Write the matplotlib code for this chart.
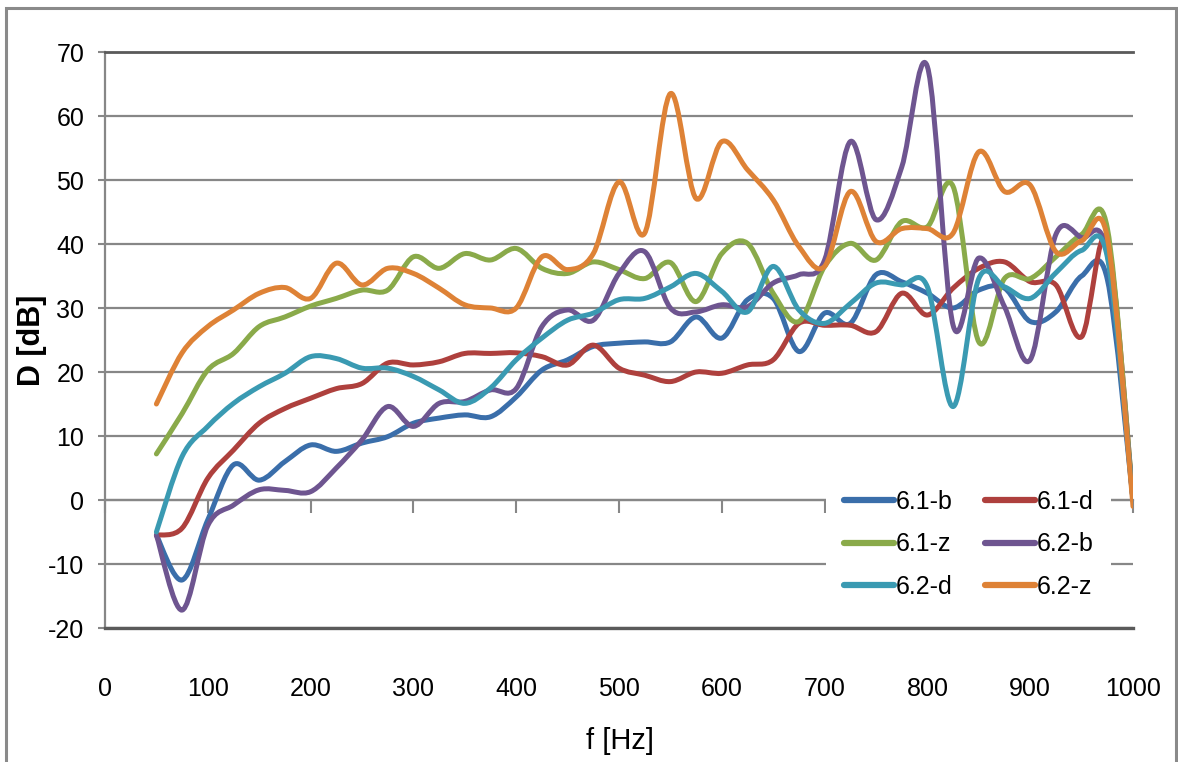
import matplotlib
matplotlib.use('Agg')
import matplotlib.pyplot as plt
from matplotlib.path import Path
from matplotlib.patches import PathPatch, Rectangle
from matplotlib.lines import Line2D
from matplotlib import font_manager

# ---------------- data ----------------
freq = [50, 75, 100, 125, 150, 175, 200, 225, 250, 275, 300, 325, 350, 375, 400,
        425, 450, 475, 500, 525, 550, 575, 600, 625, 650, 675, 700, 725, 750, 775,
        800, 825, 850, 875, 900, 925, 950, 975, 1000]

d61_b = [-5.5, -12.5, -3.1, 5.5, 3.1, 6.0, 8.6, 7.6, 8.9, 9.9, 12.0, 12.8, 13.3, 13.0, 16.1,
         20.3, 21.9, 24.0, 24.5, 24.7, 24.7, 28.6, 25.3, 31.3, 31.5, 23.2, 29.2, 27.6, 35.2, 34.1,
         32.3, 30.0, 32.8, 33.1, 27.9, 29.4, 35.0, 34.5, 0.0]
d61_d = [-5.5, -4.4, 3.4, 7.8, 12.0, 14.3, 15.9, 17.4, 18.2, 21.4, 21.1, 21.6, 22.9, 22.9, 23.0,
         22.4, 21.1, 24.2, 20.6, 19.5, 18.5, 20.0, 19.8, 21.1, 21.9, 27.6, 27.3, 27.3, 26.3, 32.3,
         28.9, 33.1, 36.2, 37.2, 34.1, 33.6, 25.5, 40.5, 0.0]
d61_z = [7.2, 13.5, 20.3, 22.9, 27.1, 28.6, 30.3, 31.5, 32.8, 32.8, 38.0, 36.2, 38.5, 37.5, 39.3,
         36.2, 35.4, 37.2, 36.0, 34.6, 37.1, 31.0, 38.5, 40.1, 32.3, 27.9, 36.5, 40.1, 37.5, 43.5,
         42.7, 49.0, 24.7, 34.6, 34.6, 38.0, 41.5, 42.5, 0.0]
d62_b = [-5.5, -17.2, -4.0, -0.8, 1.6, 1.5, 1.3, 5.0, 9.4, 14.6, 11.5, 15.1, 15.4, 17.2, 17.4,
         27.1, 29.7, 28.1, 35.4, 38.8, 30.0, 29.4, 30.5, 30.2, 33.9, 35.2, 37.5, 56.0, 43.8, 52.0,
         67.7, 27.3, 37.8, 30.2, 21.9, 41.5, 41.0, 38.5, 0.0]
d62_d = [-5.0, 6.8, 11.5, 15.1, 17.7, 19.8, 22.4, 22.1, 20.6, 20.6, 19.3, 17.2, 15.1, 17.5, 21.9,
         25.3, 28.1, 29.2, 31.3, 31.5, 33.3, 35.4, 32.6, 29.4, 36.5, 29.7, 27.6, 30.7, 33.9, 33.6,
         33.3, 14.6, 34.6, 33.3, 31.5, 35.5, 39.0, 38.0, 0.0]
d62_z = [15.0, 23.0, 27.1, 29.7, 32.3, 33.2, 31.5, 37.0, 33.6, 36.2, 35.4, 33.1, 30.5, 30.0, 30.0,
         38.0, 36.0, 38.5, 49.7, 41.7, 63.5, 47.1, 56.0, 51.6, 46.9, 39.6, 36.5, 48.2, 40.4, 42.4,
         42.4, 41.7, 54.4, 48.2, 49.2, 38.8, 40.5, 41.0, -1.0]

series_names = ['6.1-b', '6.1-d', '6.1-z', '6.2-b', '6.2-d', '6.2-z']
series_vals = [d61_b, d61_d, d61_z, d62_b, d62_d, d62_z]
series_colors = ['#3A6EAA', '#AE403D', '#8AAA4A', '#6E5590', '#3A9AB2', '#DE8236']

y_ticks = [-20, -10, 0, 10, 20, 30, 40, 50, 60, 70]
x_ticks = [0, 100, 200, 300, 400, 500, 600, 700, 800, 900, 1000]

# ---------------- fonts ----------------
names_avail = {f.name for f in font_manager.fontManager.ttflist}
narrow = 'Liberation Sans Narrow' if 'Liberation Sans Narrow' in names_avail else 'Liberation Sans'
FS = 20 if narrow == 'Liberation Sans Narrow' else 18
plt.rcParams['axes.unicode_minus'] = False
plt.rcParams['font.family'] = [narrow, 'DejaVu Sans']

W, H = 1178, 762
fig = plt.figure(figsize=(W / 100, H / 100), dpi=100)
ax = fig.add_axes([105 / W, 134 / H, 1028 / W, 576 / H])
ax.set_xlim(0, 1000)
ax.set_ylim(-20, 70)

GRID = '#878787'
DARK = '#5a5a5a'

ax.set_yticks(y_ticks)
ax.set_xticks(x_ticks)
ax.yaxis.grid(True, color=GRID, lw=1.6, zorder=0)
ax.set_axisbelow(True)
ax.spines['right'].set_visible(False)
ax.spines['top'].set_color(DARK)
ax.spines['top'].set_linewidth(2.0)
ax.spines['bottom'].set_color(DARK)
ax.spines['bottom'].set_linewidth(2.4)
ax.spines['left'].set_color(GRID)
ax.spines['left'].set_linewidth(1.6)

ax.tick_params(axis='y', direction='out', length=5, width=1.5, color=GRID,
               pad=10, labelsize=FS)
ax.tick_params(axis='x', length=0, pad=35, labelsize=FS)

# axis line with tick marks crossing at D = 0
sec = ax.secondary_xaxis(20 / 90)
sec.set_xticks(x_ticks)
sec.tick_params(direction='out', length=9, width=1.5, color=GRID, labelbottom=False,
                labeltop=False)
for s in sec.spines.values():
    s.set_color(GRID)
    s.set_linewidth(1.6)


def smooth_path(xs, ys):
    pts = list(zip(xs, ys))
    n = len(pts)
    verts = [pts[0]]
    codes = [Path.MOVETO]
    for i in range(n - 1):
        p0 = pts[i - 1] if i > 0 else pts[i]
        p1 = pts[i]
        p2 = pts[i + 1]
        p3 = pts[i + 2] if i + 2 < n else pts[i + 1]
        c1 = (p1[0] + (p2[0] - p0[0]) / 6, p1[1] + (p2[1] - p0[1]) / 6)
        c2 = (p2[0] - (p3[0] - p1[0]) / 6, p2[1] - (p3[1] - p1[1]) / 6)
        verts += [c1, c2, p2]
        codes += [Path.CURVE4] * 3
    return Path(verts, codes)


LW = 3.6
handles = {}
for name, vals, col in zip(series_names, series_vals, series_colors):
    patch = PathPatch(smooth_path(freq, vals), facecolor='none', edgecolor=col, lw=LW,
                      capstyle='round', joinstyle='round', transform=ax.transData, zorder=3)
    ax.add_patch(patch)
    handles[name] = Line2D([], [], color=col, lw=LW * 1.25, solid_capstyle='round')

order = ['6.1-b', '6.1-z', '6.2-d', '6.1-d', '6.2-b', '6.2-z']
leg = ax.legend([handles[k] for k in order], order, ncol=2, loc='upper left',
                bbox_to_anchor=(826 / W, 1 - 472 / H), bbox_transform=fig.transFigure,
                frameon=True, facecolor='white', edgecolor='none', framealpha=1,
                fancybox=False, borderpad=0.7, borderaxespad=0, handlelength=2.0,
                handletextpad=0.08, columnspacing=1.3, labelspacing=0.75,
                prop={'family': narrow, 'size': FS})
leg.set_zorder(5)

fig.text(32 / W, 1 - 340 / H, 'D [dB]', rotation=90, ha='center', va='center',
         fontsize=22, fontweight='bold', family=['Liberation Sans', 'DejaVu Sans'])
fig.text(620 / W, 1 - 741 / H, 'f [Hz]', ha='center', va='center', fontsize=21,
         family=[narrow, 'DejaVu Sans'])

fig.patches.append(Rectangle((6 / W, -0.05), (1175.5 - 6) / W, 1.05 - 8 / H, fill=False,
                             edgecolor='#8a8a8a', lw=2.2, transform=fig.transFigure))

fig.savefig('out.png', dpi=100)
